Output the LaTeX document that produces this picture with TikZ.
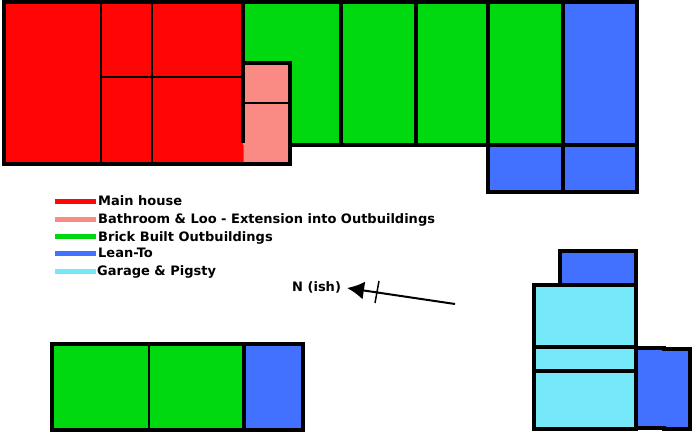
\documentclass[tikz,border=0pt]{standalone}
\usepackage{fontspec}
\setmainfont{DejaVu Sans}
\usetikzlibrary{arrows.meta}
\definecolor{house}{HTML}{FF0505}
\definecolor{bath}{HTML}{FA8A84}
\definecolor{brick}{HTML}{00D80F}
\definecolor{lean}{HTML}{4270FF}
\definecolor{garage}{HTML}{75E8FA}
\tikzset{>=latex}
\tikzset{wall/.style={line width=4.4pt,line cap=rect}}
\tikzset{thin wall/.style={line width=2.2pt}}
\tikzset{keyline/.style={line width=5pt}}
\tikzset{keytext/.style={anchor=base west,inner sep=0pt,font=\bfseries\fontsize{13}{15}\selectfont}}
\begin{document}
\begin{tikzpicture}[x=1pt,y=-1pt]

  \useasboundingbox (0,0) rectangle (695,435);

  % Fills
  \fill[brick] (243,2) rectangle (563,145);
  \fill[lean]  (563,2) rectangle (637,145);
  \fill[lean]  (488,145) rectangle (637,192);
  \fill[house] (4,2) rectangle (243,164);
  \fill[bath]  (243,63) rectangle (290,164);
  \fill[brick] (52,344) rectangle (244,430);
  \fill[lean]  (244,344) rectangle (303,430);
  \fill[lean]  (560,251) rectangle (636,285);
  \fill[garage] (534,285) rectangle (636,429);
  \fill[lean]  (636,348) rectangle (690,429);

  % Main house
  \draw[thin wall] (101,2) -- (101,164);
  \draw[thin wall] (152,2) -- (152,164);
  \draw[thin wall] (101,77) -- (243,77);
  \draw[wall] (243,2) -- (4,2) -- (4,164) -- (290,164) -- (290,63) -- (243,63);
  \draw[wall] (243,2) -- (243,141);
  \draw[lean,line width=0.5pt] (243.5,145) -- (243.5,162);
  \draw[thin wall] (243,103) -- (290,103);

  % Outbuildings
  \draw[wall] (243,2) -- (637,2) -- (637,192) -- (488,192) -- (488,145);
  \draw[wall] (290,145) -- (637,145);
  \draw[wall] (341,2) -- (341,145);
  \draw[wall] (416,2) -- (416,145);
  \draw[wall] (488,2) -- (488,145);
  \draw[wall] (563,2) -- (563,192);

  % Garage
  \draw[wall] (560,285) -- (560,251) -- (636,251) -- (636,429) -- (534,429) -- (534,285) -- cycle;
  \draw[wall] (560,285) -- (636,285);
  \draw[wall] (534,347) -- (636,347);
  \draw[wall] (534,371) -- (636,371);
  \draw[wall] (636,348) -- (664,348);
  \draw[wall] (664,349) -- (690,349) -- (690,429) -- (664,429);
  \draw[wall] (636,428) -- (664,428);

  % Lower block
  \draw[wall] (52,344) rectangle (303,430);
  \draw[thin wall] (149,344) -- (149,430);
  \draw[wall] (244,344) -- (244,430);

  % Key
  \coordinate (mainkey)   at (55,202);
  \coordinate (bathkey)   at (55,220);
  \coordinate (brickkey)  at (55,237);
  \coordinate (leankey)   at (55,254);
  \coordinate (garagekey) at (55,272);
  \draw[keyline,house]  (mainkey)   -- ++(41,0);
  \draw[keyline,bath]   (bathkey)   -- ++(41,0);
  \draw[keyline,brick]  (brickkey)  -- ++(41,0);
  \draw[keyline,lean]   (leankey)   -- ++(41,0);
  \draw[keyline,garage] (garagekey) -- ++(41,0);
  \node[keytext] (mainlabel)   at (98,206) {Main house};
  \node[keytext] (bathlabel)   at (98,224) {Bathroom \& Loo - Extension into Outbuildings};
  \node[keytext] (bricklabel)  at (98,241.5) {Brick Built Outbuildings};
  \node[keytext] (leanlabel)   at (98,258) {Lean-To};
  \node[keytext] (garagelabel) at (97,276) {Garage \& Pigsty};

  % North arrow
  \node[keytext] (north) at (292,291) {N (ish)};
  \coordinate (tail) at (455,304);
  \coordinate (tip) at (347,288);
  \coordinate (tickup) at (379,281);
  \coordinate (tickdown) at (375,303);
  \draw[-{Latex[length=17pt,width=18pt]},line width=2pt] (tail) -- (tip);
  \draw[line width=1.5pt] (tickup) -- (tickdown);

\end{tikzpicture}
\end{document}
